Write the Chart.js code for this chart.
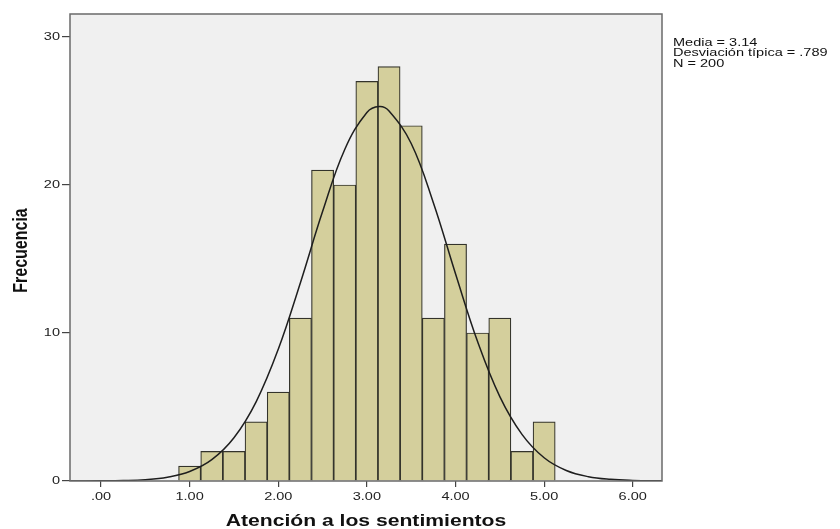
<!DOCTYPE html>
<html>
<head>
<meta charset="utf-8">
<script src="https://cdn.jsdelivr.net/npm/chart.js@4.4.0/dist/chart.umd.min.js"></script>
<style>
  html, body { margin: 0; padding: 0; background: #ffffff; }
  #wrap { width: 840px; height: 529px; }
</style>
</head>
<body>
<div id="wrap"><canvas id="histo" width="840" height="529"></canvas></div>
<script>
// centros de los intervalos (ancho 0.25)
const binCenters = [1.00, 1.25, 1.50, 1.75, 2.00, 2.25, 2.50, 2.75, 3.00, 3.25, 3.50, 3.75, 4.00, 4.25, 4.50, 4.75, 5.00]
const frecuencias = [1, 2, 2, 4, 6, 11, 21, 20, 27, 28, 24, 11, 16, 10, 11, 2, 4]

// curva normal
const curveX = [-0.35, 0.00, 0.25, 0.50, 0.75, 1.00, 1.25, 1.50, 1.75, 2.00, 2.25, 2.50, 2.75, 3.00, 3.14, 3.25, 3.50, 3.75, 4.00, 4.25, 4.50, 4.75, 5.00, 5.25, 5.50, 5.75, 6.00, 6.33]
const curveY = [0.00, 0.01, 0.03, 0.09, 0.26, 0.64, 1.44, 2.92, 5.35, 8.90, 13.4, 18.2, 22.4, 24.9, 25.3, 25.0, 22.8, 18.8, 14.0, 9.4, 5.7, 3.15, 1.57, 0.71, 0.29, 0.11, 0.04, 0.01]

const xTicks = [0, 1, 2, 3, 4, 5, 6]
const xTickLabels = ['.00', '1.00', '2.00', '3.00', '4.00', '5.00', '6.00']
const yTicks = [0, 10, 20, 30]
const yTickLabels = ['0', '10', '20', '30']
const statsLines = ['Media = 3.14', 'Desviación típica = .789', 'N = 200']
const xTitle = 'Atención a los sentimientos'
const yTitle = 'Frecuencia'

const barData = binCenters.map((x, i) => ({ x: x, y: frecuencias[i] }))
const lineData = curveX.map((x, i) => ({ x: x, y: curveY[i] }))

// el grafico original esta estirado en horizontal
const STRETCH = 1.32
const FONT = '"Liberation Sans", Arial, sans-serif'

function wideText(ctx, text, x, y, align) {
  ctx.save()
  ctx.translate(x, y)
  ctx.scale(STRETCH, 1)
  ctx.textAlign = align
  ctx.fillText(text, 0, 0)
  ctx.restore()
}

const plotFrame = {
  id: 'plotFrame',
  beforeDatasetsDraw(chart) {
    const a = chart.chartArea
    const ctx = chart.ctx
    ctx.save()
    ctx.fillStyle = '#f0f0f0'
    ctx.fillRect(a.left, a.top, a.right - a.left, a.bottom - a.top)
    ctx.restore()
  },
  afterDraw(chart) {
    const a = chart.chartArea
    const ctx = chart.ctx
    const xs = chart.scales.x
    const ys = chart.scales.y
    ctx.save()
    ctx.strokeStyle = '#6a6a6a'
    ctx.lineWidth = 1.5
    ctx.strokeRect(a.left, a.top, a.right - a.left, a.bottom - a.top)

    // etiquetas de los ejes
    ctx.fillStyle = '#222222'
    ctx.font = '11px ' + FONT
    ctx.textBaseline = 'alphabetic'
    xTicks.forEach((v, i) => {
      wideText(ctx, xTickLabels[i], xs.getPixelForValue(v), a.bottom + 19, 'center')
    })
    ctx.textBaseline = 'middle'
    yTicks.forEach((v, i) => {
      wideText(ctx, yTickLabels[i], a.left - 10, ys.getPixelForValue(v), 'right')
    })

    // titulos
    ctx.fillStyle = '#111111'
    ctx.font = 'bold 16px ' + FONT
    ctx.textBaseline = 'alphabetic'
    wideText(ctx, xTitle, (a.left + a.right) / 2, 526, 'center')
    ctx.save()
    ctx.translate(27, (a.top + a.bottom) / 2 + 3)
    ctx.rotate(-Math.PI / 2)
    ctx.scale(1, STRETCH)
    ctx.textAlign = 'center'
    ctx.fillText(yTitle, 0, 0)
    ctx.restore()

    // estadisticos
    ctx.fillStyle = '#111111'
    ctx.font = '11px ' + FONT
    ctx.textBaseline = 'alphabetic'
    statsLines.forEach((t, i) => {
      wideText(ctx, t, a.right + 11, 46 + i * 10.3, 'left')
    })
    ctx.restore()
  }
}

new Chart(document.getElementById('histo'), {
  type: 'bar',
  data: {
    datasets: [{
      type: 'line',
      data: lineData,
      borderColor: '#1e1e1e',
      borderWidth: 1.5,
      pointRadius: 0,
      tension: 0.4,
      fill: false,
      order: 0
    }, {
      type: 'bar',
      data: barData,
      backgroundColor: '#d4cf9c',
      borderColor: '#33332b',
      borderWidth: 1.2,
      barPercentage: 1,
      categoryPercentage: 1,
      order: 1
    }]
  },
  options: {
    responsive: false,
    animation: false,
    layout: { padding: { top: 14, right: 178, left: 0, bottom: 0 } },
    scales: {
      x: {
        type: 'linear',
        offset: false,
        min: -0.35,
        max: 6.33,
        afterBuildTicks: s => { s.ticks = xTicks.map(v => ({ value: v })) },
        afterFit: s => { s.height = 48 },
        grid: { offset: false, drawOnChartArea: false, drawTicks: true, tickLength: 6, color: '#444444', lineWidth: 1.2 },
        border: { display: false },
        ticks: { display: false },
        title: { display: false }
      },
      y: {
        min: 0,
        max: 31.55,
        afterBuildTicks: s => { s.ticks = yTicks.map(v => ({ value: v })) },
        afterFit: s => { s.width = 70 },
        grid: { drawOnChartArea: false, drawTicks: true, tickLength: 8, color: '#444444', lineWidth: 1.2 },
        border: { display: false },
        ticks: { display: false },
        title: { display: false }
      }
    },
    plugins: {
      legend: { display: false },
      tooltip: { enabled: false }
    }
  },
  plugins: [plotFrame]
})
</script>
</body>
</html>
